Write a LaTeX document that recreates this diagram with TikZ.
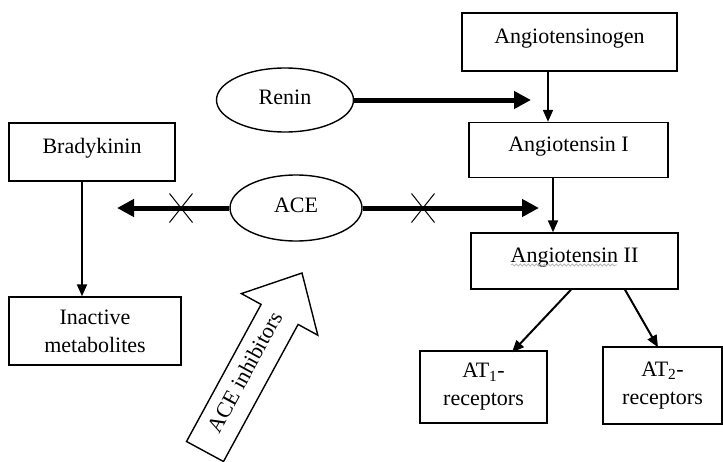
\documentclass[tikz,border=0pt]{standalone}
\usepackage{fontspec}
\setmainfont{Liberation Serif}
\usetikzlibrary{arrows.meta,shapes.misc,shapes.geometric,decorations.pathmorphing}
\begin{document}
\begin{tikzpicture}[x=1pt,y=-1pt,
  box/.style={draw,line width=1.4pt,rectangle,inner sep=0pt,align=center,font=\fontsize{22}{28}\selectfont},
  onebox/.style={box,text height=15pt,text depth=13pt},
  ell/.style={draw,line width=1.4pt,ellipse,inner sep=0pt,text height=15pt,text depth=7pt,font=\fontsize{22}{26}\selectfont},
  bigarrow/.style={line width=5pt,-{Triangle[length=17pt,width=17pt]}},
  thinarrow/.style={line width=2pt,-{Triangle[length=12pt,width=10pt]}},
  xmark/.style={cross out,draw,line width=1pt,minimum width=22pt,minimum height=28pt,inner sep=0pt},
  blockarrow/.style={draw,line width=1.4pt,fill=white,line join=miter}]
\useasboundingbox (0,0) rectangle (723,461);

% boxes
\node[onebox,minimum width=215pt,minimum height=58pt] (ang) at (569.5,42) {Angiotensinogen};
\node[onebox,minimum width=199pt,minimum height=55pt] (angI) at (568.5,150) {Angiotensin I};
\node[onebox,minimum width=207pt,minimum height=56pt] (angII) at (574.5,261) {Angiotensin II};
\node[onebox,minimum width=166pt,minimum height=58pt] (brady) at (92,152) {Bradykinin};
\node[box,minimum width=172pt,minimum height=68pt] (inact) at (95,331) {Inactive\\metabolites};
\node[box,minimum width=127pt,minimum height=72pt] (at1) at (483.5,387) {AT\textsubscript{1}-\\receptors};
\node[box,minimum width=119pt,minimum height=77pt] (at2) at (662.5,385.5) {AT\textsubscript{2}-\\receptors};

% ellipses
\node[ell,minimum width=137pt,minimum height=64pt] (renin) at (285,100) {Renin};
\node[ell,minimum width=132pt,minimum height=66pt] (ace) at (296,208) {ACE};

% free ends
\coordinate (reninend) at (531,100);
\coordinate (aceleft) at (117,208);
\coordinate (aceright) at (539,208);

% thick arrows
\draw[bigarrow] (renin) -- (reninend);
\draw[bigarrow] (ace) -- (aceleft);
\draw[bigarrow] (ace) -- (aceright);

% X marks
\node[xmark] (xl) at (181,208) {};
\node[xmark] (xr) at (423,208) {};

% thin arrows
\draw[thinarrow] ([xshift=-21.5pt]ang.south) -- ([xshift=-20.5pt]angI.north);
\draw[thinarrow] ([xshift=-15.5pt]angI.south) -- ([xshift=-21.5pt]angII.north);
\draw[thinarrow] ([xshift=-3.5pt]angII.south) -- ([xshift=28.5pt,yshift=-2pt]at1.north);
\draw[thinarrow] ([xshift=50.5pt]angII.south) -- ([xshift=-4.5pt,yshift=-1pt]at2.north);
\draw[thinarrow] ([xshift=-10pt]brady.south) -- ([xshift=-13pt]inact.north);

% wavy underline
\draw[gray!55,line width=0.8pt,decorate,decoration={snake,amplitude=1pt,segment length=4pt}]
  (511,265) -- (617,265);

% ACE inhibitors block arrow
\coordinate (b1) at (186.5,441.5);
\coordinate (b2) at (261.1,304.4);
\coordinate (b3) at (241.4,293.6);
\coordinate (b4) at (302,273);
\coordinate (b5) at (317.8,335.2);
\coordinate (b6) at (298.1,324.4);
\coordinate (b7) at (223.5,461.5);
\draw[blockarrow] (b1) -- (b2) -- (b3) -- (b4) -- (b5) -- (b6) -- (b7) -- cycle;
\node[rotate=61.5,font=\fontsize{22}{26}\selectfont,inner sep=0pt] (inhib) at (245,372) {ACE inhibitors};
\end{tikzpicture}
\end{document}
